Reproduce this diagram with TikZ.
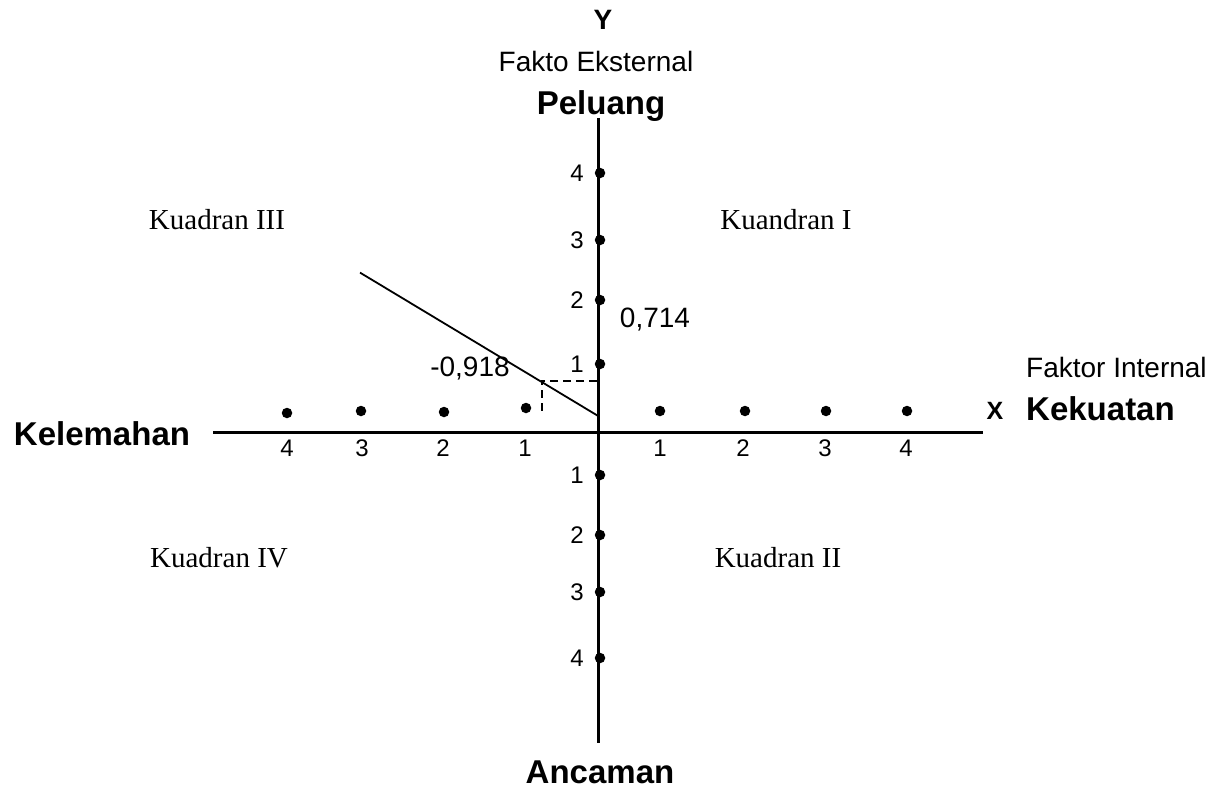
\documentclass[tikz,border=0pt]{standalone}
\usepackage{fontspec}
\setmainfont{Liberation Sans}
\newfontfamily\quadfont{Liberation Serif}
\begin{document}
\begin{tikzpicture}[x=1pt,y=-1pt,
  dot/.style={circle,fill=black,inner sep=0pt,minimum size=10.5pt},
  axis/.style={line width=3pt},
  num/.style={inner sep=0pt,font=\fontsize{24}{26}\selectfont},
  big/.style={inner sep=0pt,anchor=base,font=\fontsize{33}{36}\selectfont\bfseries},
  reg/.style={inner sep=0pt,anchor=base,font=\fontsize{28}{30}\selectfont},
  quad/.style={inner sep=0pt,anchor=base,font=\fontsize{29}{31}\selectfont\quadfont},
  guide/.style={dashed,dash pattern=on 8pt off 5pt,line width=1.8pt}]
\useasboundingbox (0,0) rectangle (1222,789);
% axes
\coordinate (yt) at (598,118);
\coordinate (yb) at (598,743);
\coordinate (xl) at (213,432);
\coordinate (xr) at (983,432);
\draw[axis] (yt) -- (yb);
\draw[axis] (xl) -- (xr);
% y-axis dots and labels
\foreach \n/\y in {4/173,3/240,2/300,1/364}{
  \node[dot] (pu\n) at (600,\y) {};
  \node[num,anchor=east] (lu\n) at (584,\y) {\n};
}
\foreach \n/\y in {1/475,2/535,3/592,4/658}{
  \node[dot] (pd\n) at (600,\y) {};
  \node[num,anchor=east] (ld\n) at (584,\y) {\n};
}
% x-axis dots and labels
\foreach \n/\x/\y/\lx in {4/287/413/287,3/361/411/362,2/444/412/443,1/526/408/525}{
  \node[dot] (pl\n) at (\x,\y) {};
  \node[num,anchor=base] (ll\n) at (\lx,456) {\n};
}
\foreach \n/\x/\lx in {1/660/660,2/745/743,3/826/825,4/907/906}{
  \node[dot] (pr\n) at (\x,411) {};
  \node[num,anchor=base] (lr\n) at (\lx,456) {\n};
}
% strategy line and guides
\coordinate (ls) at (360,272.6);
\coordinate (le) at (597.7,415.7);
\coordinate (gc) at (541.7,380.7);
\coordinate (gy) at (597,380.7);
\coordinate (gx) at (541.7,416);
\draw[line width=1.8pt] (ls) -- (le);
\draw[guide] (gy) -- (gc) -- (gx);
% values
\node[reg] (vx) at (470,376) {-0,918};
\node[reg] (vy) at (655,327) {0,714};
% axis titles
\node[big,font=\fontsize{28}{30}\selectfont\bfseries] (ty) at (603,30) {Y};
\node[reg] (fe) at (596,72) {Fakto Eksternal};
\node[big] (pel) at (601,114) {Peluang};
\node[big] (anc) at (600,783) {Ancaman};
\node[big] (kel) at (102,445) {Kelemahan};
\node[big,font=\fontsize{25}{27}\selectfont\bfseries] (tx) at (995,419) {X};
\node[big,anchor=base west] (kek) at (1026,420) {Kekuatan};
\node[reg,anchor=base west] (fi) at (1026,377) {Faktor Internal};
% quadrants
\node[quad] (q3) at (217,229) {Kuadran III};
\node[quad] (q1) at (786,229) {Kuandran I};
\node[quad] (q4) at (219,567) {Kuadran IV};
\node[quad] (q2) at (778,567) {Kuadran II};
\end{tikzpicture}
\end{document}
